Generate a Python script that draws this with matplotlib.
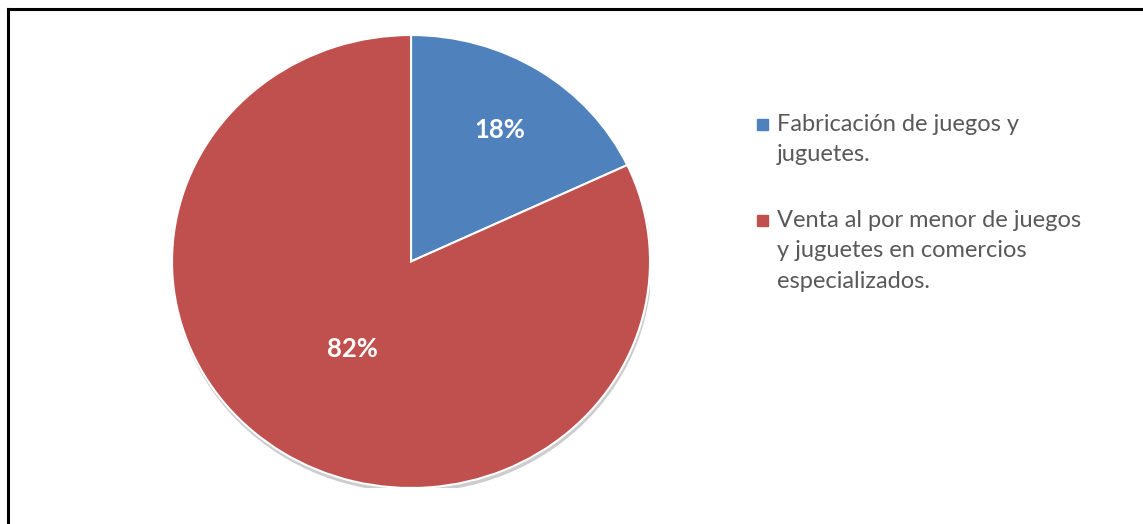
import numpy as np
import matplotlib.pyplot as plt
from matplotlib.lines import Line2D
from matplotlib.patches import Ellipse, Rectangle

# data
labels = ['Fabricación de juegos y\njuguetes.',
          'Venta al por menor de juegos\ny juguetes en comercios\nespecializados.']
values = [18, 82]
colors = ['#4F81BD', '#C0504D']
pct_dist = [0.69, 0.46]   # where the % labels sit inside each slice

plt.rcParams['font.family'] = ['Lato', 'DejaVu Sans']

fig = plt.figure(figsize=(11.43, 5.24), dpi=100)
ax = fig.add_axes([0.1505, 0.0687, 0.4182, 0.8645])

# faint shadow under the pie
ax.add_patch(Ellipse((0.004, -0.016), 2.0, 2.0, color='#cdcdcd', zorder=0))

wedges, texts, autotexts = ax.pie(values, colors=colors, startangle=90,
                                  counterclock=False, autopct='%d%%',
                                  wedgeprops=dict(edgecolor='white', linewidth=1.5),
                                  textprops=dict(color='white', fontsize=18.5, fontweight='bold'))
ax.set_aspect('auto')
ax.set_xlim(-1, 1)
ax.set_ylim(-1, 1)

# move % labels along each slice's mid angle
for w, t, d in zip(wedges, autotexts, pct_dist):
    ang = np.deg2rad((w.theta1 + w.theta2) / 2)
    t.set_position((d * np.cos(ang), d * np.sin(ang)))

# legend, drawn by hand so the square lines up with the first text line
x_box = 757 / 1143
x_txt = 777 / 1143
line_h = 30 / 524
y = 1 - 114 / 524   # top of first entry
for lab, c in zip(labels, colors):
    fig.patches.append(Rectangle((x_box, y - 16 / 524), 11 / 1143, 11 / 524,
                                 transform=fig.transFigure, color=c))
    fig.text(x_txt, y, lab, fontsize=17, color='#595959', va='top',
             linespacing=1.55, transform=fig.transFigure)
    n = lab.count('\n') + 1
    y -= line_h * n + 36 / 524

# frame lines (top and left only)
fig.add_artist(Line2D([8 / 1143, 1], [1 - 9 / 524, 1 - 9 / 524], color='black', lw=2.2,
                      transform=fig.transFigure))
fig.add_artist(Line2D([8 / 1143, 8 / 1143], [0, 1 - 9 / 524], color='black', lw=2.2,
                      transform=fig.transFigure))

fig.savefig('out.png', dpi=100)
